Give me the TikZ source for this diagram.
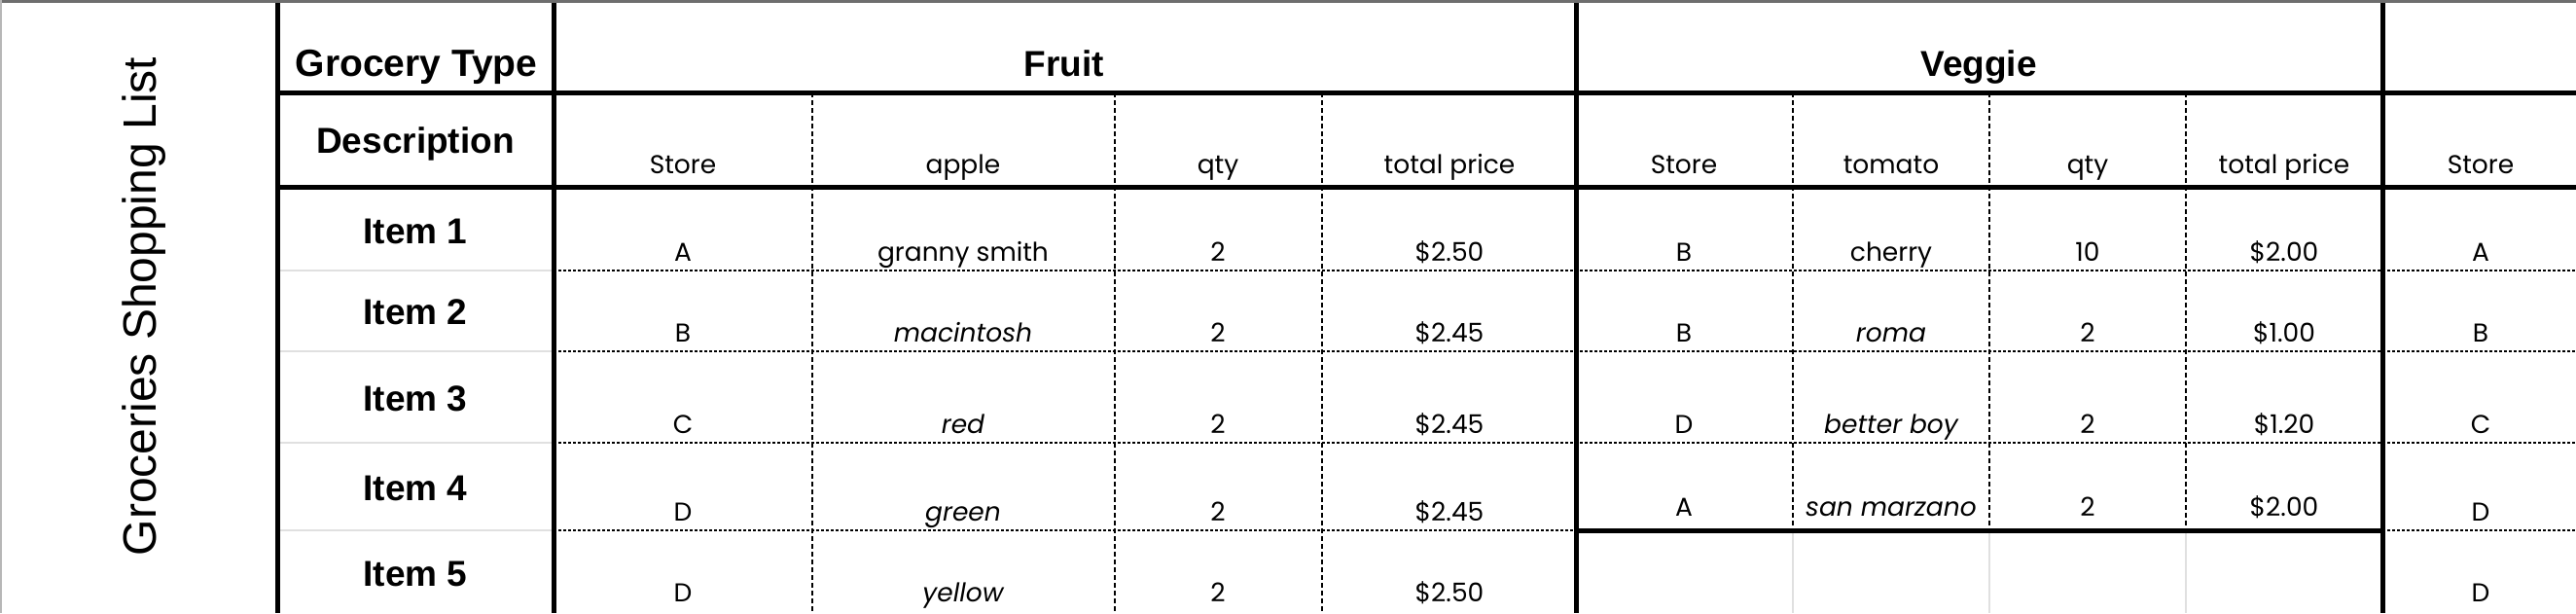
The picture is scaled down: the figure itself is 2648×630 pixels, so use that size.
\documentclass[tikz,border=0pt]{standalone}
\usepackage{fontspec}
\setmainfont{Liberation Sans}
\newfontfamily\datafont{Poppins}
\usepackage{tikz}
\usetikzlibrary{positioning}
\definecolor{gridgray}{RGB}{224, 224, 224}
\definecolor{bordergray}{RGB}{110, 110, 110}

\begin{document}
\begin{tikzpicture}[
    x=1pt, y=-1pt,
    title/.style={font=\fontsize{48}{52}\selectfont, rotate=90, anchor=base, inner sep=0pt},
    head/.style={font=\bfseries\fontsize{37}{40}\selectfont, anchor=base, inner sep=0pt},
    cell/.style={font=\datafont\fontsize{26.5}{30}\selectfont, anchor=base, inner sep=0pt},
    icell/.style={cell, font=\datafont\itshape\fontsize{26.5}{30}\selectfont},
    heavy/.style={line width=5pt},
    dotrule/.style={line width=2.4pt, dash pattern=on 3pt off 2pt},
    dashrule/.style={line width=1.8pt, dash pattern=on 5pt off 3pt},
    faint/.style={line width=1.5pt, draw=gridgray}
]
    \useasboundingbox (0,0) rectangle (2648,630);

    % Frame
    \draw[bordergray, line width=3pt] (0,1.5) -- (2648,1.5);
    \draw[bordergray!50, line width=2pt] (1,0) -- (1,630);

    % Light rules
    \draw[faint] (285,278) -- (569,278);
    \draw[faint] (285,361) -- (569,361);
    \draw[faint] (285,455) -- (569,455);
    \draw[faint] (285,545) -- (569,545);
    \draw[faint] (1843,545) -- (1843,630);
    \draw[faint] (2045,545) -- (2045,630);
    \draw[faint] (2247,545) -- (2247,630);

    % Dotted rows
    \draw[dotrule] (569,278) -- (2648,278);
    \draw[dotrule] (569,361) -- (2648,361);
    \draw[dotrule] (569,455) -- (2648,455);
    \draw[dotrule] (569,545) -- (1620,545);
    \draw[dotrule] (2449,545) -- (2648,545);

    % Dashed columns
    \draw[dashrule] (835,95) -- (835,630);
    \draw[dashrule] (1146,95) -- (1146,630);
    \draw[dashrule] (1359,95) -- (1359,630);
    \draw[dashrule] (1843,95) -- (1843,545);
    \draw[dashrule] (2045,95) -- (2045,545);
    \draw[dashrule] (2247,95) -- (2247,545);

    % Heavy rules
    \draw[heavy] (285,95) -- (2648,95);
    \draw[heavy] (285,192) -- (2648,192);
    \draw[heavy] (1620,545) -- (2449,545);
    \draw[heavy] (285,3) -- (285,630);
    \draw[heavy] (569,3) -- (569,630);
    \draw[heavy] (1620,3) -- (1620,630);
    \draw[heavy] (2449,3) -- (2449,630);

    % Title and headers
    \node[title] (title) at (160,315) {Groceries Shopping List};
    \node[head, font=\bfseries\fontsize{39}{42}\selectfont] (type) at (428,78) {Grocery Type};
    \node[head] (fruit) at (1094,78) {Fruit};
    \node[head] (veggie) at (2034,78) {Veggie};
    \node[head] (desc) at (427,157) {Description};
    \node[head] (item1) at (427,250) {Item 1};
    \node[head] (item2) at (427,333) {Item 2};
    \node[head] (item3) at (427,422) {Item 3};
    \node[head] (item4) at (427,514) {Item 4};
    \node[head] (item5) at (427,602) {Item 5};

    % Column headers
    \node[cell] (fstore) at (702,178) {Store};
    \node[cell] (fapple) at (990,178) {apple};
    \node[cell] (fqty) at (1252,178) {qty};
    \node[cell] (fprice) at (1490,178) {total price};
    \node[cell] (vstore) at (1731,178) {Store};
    \node[cell] (vtomato) at (1944,178) {tomato};
    \node[cell] (vqty) at (2146,178) {qty};
    \node[cell] (vprice) at (2348,178) {total price};
    \node[cell] (sstore) at (2550,178) {Store};

    % Fruit
    \node[cell] (fstore1) at (702,268) {A};
    \node[cell] (fapple1) at (990,268) {granny smith};
    \node[cell] (fqty1) at (1252,268) {2};
    \node[cell] (fprice1) at (1490,268) {\$2.50};
    \node[cell] (fstore2) at (702,351) {B};
    \node[icell] (fapple2) at (990,351) {macintosh};
    \node[cell] (fqty2) at (1252,351) {2};
    \node[cell] (fprice2) at (1490,351) {\$2.45};
    \node[cell] (fstore3) at (702,445) {C};
    \node[icell] (fapple3) at (990,445) {red};
    \node[cell] (fqty3) at (1252,445) {2};
    \node[cell] (fprice3) at (1490,445) {\$2.45};
    \node[cell] (fstore4) at (702,535) {D};
    \node[icell] (fapple4) at (990,535) {green};
    \node[cell] (fqty4) at (1252,535) {2};
    \node[cell] (fprice4) at (1490,535) {\$2.45};
    \node[cell] (fstore5) at (702,618) {D};
    \node[icell] (fapple5) at (990,618) {yellow};
    \node[cell] (fqty5) at (1252,618) {2};
    \node[cell] (fprice5) at (1490,618) {\$2.50};

    % Veggie
    \node[cell] (vstore1) at (1731,268) {B};
    \node[cell] (vtomato1) at (1944,268) {cherry};
    \node[cell] (vqty1) at (2146,268) {10};
    \node[cell] (vprice1) at (2348,268) {\$2.00};
    \node[cell] (vstore2) at (1731,351) {B};
    \node[icell] (vtomato2) at (1944,351) {roma};
    \node[cell] (vqty2) at (2146,351) {2};
    \node[cell] (vprice2) at (2348,351) {\$1.00};
    \node[cell] (vstore3) at (1731,445) {D};
    \node[icell] (vtomato3) at (1944,445) {better boy};
    \node[cell] (vqty3) at (2146,445) {2};
    \node[cell] (vprice3) at (2348,445) {\$1.20};
    \node[cell] (vstore4) at (1731,530) {A};
    \node[icell] (vtomato4) at (1944,530) {san marzano};
    \node[cell] (vqty4) at (2146,530) {2};
    \node[cell] (vprice4) at (2348,530) {\$2.00};

    % Next block
    \node[cell] (sstore1) at (2550,268) {A};
    \node[cell] (sstore2) at (2550,351) {B};
    \node[cell] (sstore3) at (2550,445) {C};
    \node[cell] (sstore4) at (2550,535) {D};
    \node[cell] (sstore5) at (2550,618) {D};

\end{tikzpicture}
\end{document}
